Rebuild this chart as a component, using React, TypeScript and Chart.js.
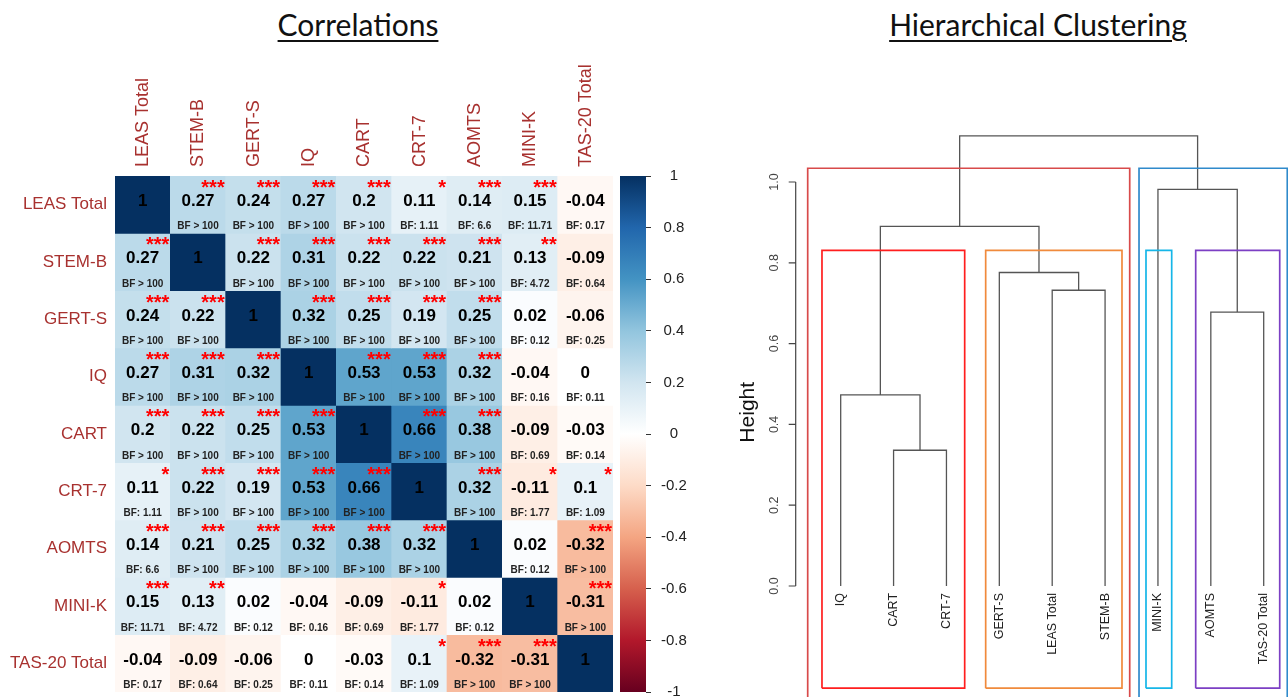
import React, { useEffect, useRef } from 'react';
import { Chart, registerables } from 'chart.js';

Chart.register(...registerables);

// ---------------- DATA ----------------
const VARS = ['LEAS Total', 'STEM-B', 'GERT-S', 'IQ', 'CART', 'CRT-7', 'AOMTS', 'MINI-K', 'TAS-20 Total'];

const CORR: number[][] = [
  [1, 0.27, 0.24, 0.27, 0.2, 0.11, 0.14, 0.15, -0.04],
  [0.27, 1, 0.22, 0.31, 0.22, 0.22, 0.21, 0.13, -0.09],
  [0.24, 0.22, 1, 0.32, 0.25, 0.19, 0.25, 0.02, -0.06],
  [0.27, 0.31, 0.32, 1, 0.53, 0.53, 0.32, -0.04, 0],
  [0.2, 0.22, 0.25, 0.53, 1, 0.66, 0.38, -0.09, -0.03],
  [0.11, 0.22, 0.19, 0.53, 0.66, 1, 0.32, -0.11, 0.1],
  [0.14, 0.21, 0.25, 0.32, 0.38, 0.32, 1, 0.02, -0.32],
  [0.15, 0.13, 0.02, -0.04, -0.09, -0.11, 0.02, 1, -0.31],
  [-0.04, -0.09, -0.06, 0, -0.03, 0.1, -0.32, -0.31, 1],
];

const BF: string[][] = [
  ['', '> 100', '> 100', '> 100', '> 100', '1.11', '6.6', '11.71', '0.17'],
  ['> 100', '', '> 100', '> 100', '> 100', '> 100', '> 100', '4.72', '0.64'],
  ['> 100', '> 100', '', '> 100', '> 100', '> 100', '> 100', '0.12', '0.25'],
  ['> 100', '> 100', '> 100', '', '> 100', '> 100', '> 100', '0.16', '0.11'],
  ['> 100', '> 100', '> 100', '> 100', '', '> 100', '> 100', '0.69', '0.14'],
  ['1.11', '> 100', '> 100', '> 100', '> 100', '', '> 100', '1.77', '1.09'],
  ['6.6', '> 100', '> 100', '> 100', '> 100', '> 100', '', '0.12', '> 100'],
  ['11.71', '4.72', '0.12', '0.16', '0.69', '1.77', '0.12', '', '> 100'],
  ['0.17', '0.64', '0.25', '0.11', '0.14', '1.09', '> 100', '> 100', ''],
];

const STARS: number[][] = [
  [0, 3, 3, 3, 3, 1, 3, 3, 0],
  [3, 0, 3, 3, 3, 3, 3, 2, 0],
  [3, 3, 0, 3, 3, 3, 3, 0, 0],
  [3, 3, 3, 0, 3, 3, 3, 0, 0],
  [3, 3, 3, 3, 0, 3, 3, 0, 0],
  [1, 3, 3, 3, 3, 0, 3, 1, 1],
  [3, 3, 3, 3, 3, 3, 0, 0, 3],
  [3, 2, 0, 0, 0, 1, 0, 0, 3],
  [0, 0, 0, 0, 0, 1, 3, 3, 0],
];

const CB_RANGE = [-1, 1];
const CB_STEP = 0.2;

// dendrogram (hclust-style merges: negative = leaf position, positive = earlier merge)
const LEAVES = ['IQ', 'CART', 'CRT-7', 'GERT-S', 'LEAS Total', 'STEM-B', 'MINI-K', 'AOMTS', 'TAS-20 Total'];
const MERGE_LEFT = [-2, -5, -8, -1, -4, 4, -7, 6];
const MERGE_RIGHT = [-3, -6, -9, 1, 2, 5, 3, 7];
const MERGE_HEIGHT = [0.336, 0.732, 0.678, 0.473, 0.776, 0.89, 0.982, 1.114];
const DENDRO_TICKS = [0, 0.2, 0.4, 0.6, 0.8, 1.0];

// cluster boxes (leaf units / height units)
const BOX_LEFT = [0.376, 6.642, 0.646, 3.742, 6.774, 7.714];
const BOX_RIGHT = [6.466, 9.446, 3.345, 6.32, 7.26, 9.303];
const BOX_TOP = [1.034, 1.034, 0.831, 0.831, 0.831, 0.831];
const BOX_BOTTOM = [-0.32, -0.32, -0.253, -0.253, -0.253, -0.253];

// ---------------- STYLE ----------------
const FONT = '"Liberation Sans", Arial, Helvetica, sans-serif';
const LABEL_RED = '#A8312F';
const RDBU = ['#67001F', '#B2182B', '#D6604D', '#F4A582', '#FDDBC7', '#FFFFFF', '#D1E5F0', '#92C5DE', '#4393C3', '#2166AC', '#053061'];
const BOX_COLORS = ['#D84A4A', '#2F8ACB', '#FF1E1E', '#F08A3C', '#16B6E8', '#7C3FC4'];

function hexToRgb(h: string) {
  const n = parseInt(h.slice(1), 16);
  return [(n >> 16) & 255, (n >> 8) & 255, n & 255];
}
function corrColor(v: number) {
  const t = ((v + 1) / 2) * (RDBU.length - 1);
  const i = Math.min(Math.floor(t), RDBU.length - 2);
  const f = t - i;
  const a = hexToRgb(RDBU[i]);
  const b = hexToRgb(RDBU[i + 1]);
  const c = a.map((av, k) => Math.round(av + (b[k] - av) * f));
  return `rgb(${c[0]},${c[1]},${c[2]})`;
}

export default function App() {
  const heatRef = useRef<HTMLCanvasElement>(null);
  const cbRef = useRef<HTMLCanvasElement>(null);
  const dendRef = useRef<HTMLCanvasElement>(null);

  useEffect(() => {
    Chart.defaults.font.family = FONT;

    // ---------- Heatmap ----------
    const cellText = {
      id: 'cellText',
      afterDatasetsDraw(chart: any) {
        const { ctx, scales } = chart;
        const x = scales.x;
        const y = scales.y;
        const cw = x.getPixelForValue(1) - x.getPixelForValue(0);
        ctx.save();
        for (let r = 0; r < VARS.length; r++) {
          for (let c = 0; c < VARS.length; c++) {
            const xc = x.getPixelForValue(c);
            const top = y.getPixelForValue(r);
            const bot = y.getPixelForValue(r + 1);
            const h = bot - top;
            const right = xc + cw / 2;
            ctx.fillStyle = '#000';
            ctx.textAlign = 'center';
            ctx.textBaseline = 'alphabetic';
            ctx.font = `bold 17px ${FONT}`;
            ctx.fillText(String(CORR[r][c]), xc, top + h * 0.525);
            const bf = BF[r][c];
            if (bf) {
              ctx.font = `bold 10px ${FONT}`;
              ctx.fillStyle = '#222';
              ctx.fillText(bf.startsWith('>') ? `BF ${bf}` : `BF: ${bf}`, xc, top + h * 0.93);
            }
            const s = STARS[r][c];
            if (s > 0) {
              ctx.font = `bold 20px ${FONT}`;
              ctx.fillStyle = '#FF0000';
              ctx.textAlign = 'right';
              ctx.fillText('*'.repeat(s), right - 1, top + 18);
            }
          }
        }
        ctx.restore();
      },
    };

    const heat = new Chart(heatRef.current as HTMLCanvasElement, {
      type: 'bar',
      data: {
        labels: VARS,
        datasets: VARS.map((rowName, r) => ({
          label: rowName,
          data: VARS.map(() => [r, r + 1]),
          backgroundColor: VARS.map((_, c) => corrColor(CORR[r][c])),
          borderWidth: 0,
          categoryPercentage: 1,
          barPercentage: 1,
        })),
      } as any,
      options: {
        animation: false,
        responsive: false,
        layout: { padding: { left: 0, right: 27, top: 0, bottom: 5 } },
        plugins: { legend: { display: false }, tooltip: { enabled: false }, title: { display: false } },
        scales: {
          x: {
            type: 'category',
            position: 'top',
            stacked: true,
            grid: { display: false, drawTicks: false },
            border: { display: false },
            ticks: {
              minRotation: 90,
              maxRotation: 90,
              autoSkip: false,
              padding: 9,
              labelOffset: 22,
              color: LABEL_RED,
              font: { size: 18, family: FONT },
            },
            afterFit: (s: any) => {
              s.height = 176;
              s.paddingLeft = 0;
              s.paddingRight = 0;
            },
          },
          y: {
            type: 'linear',
            min: 0,
            max: VARS.length,
            reverse: true,
            grid: { display: false, drawTicks: false },
            border: { display: false },
            afterBuildTicks: (s: any) => {
              s.ticks = VARS.map((_, i) => ({ value: i + 0.5 }));
            },
            ticks: {
              autoSkip: false,
              padding: 8,
              color: LABEL_RED,
              font: { size: 17, family: FONT },
              callback: (_v: any, i: number) => VARS[i],
            },
            afterFit: (s: any) => {
              s.width = 115;
              s.paddingTop = 0;
              s.paddingBottom = 0;
            },
          },
        },
      } as any,
      plugins: [cellText],
    });

    // ---------- Colour bar ----------
    const cb = new Chart(cbRef.current as HTMLCanvasElement, {
      type: 'bar',
      data: {
        labels: ['corr'],
        datasets: [
          {
            data: [CB_RANGE],
            backgroundColor: (ctx: any) => {
              const ch = ctx.chart;
              const ys = ch.scales.y;
              if (!ys || !ch.chartArea) return RDBU[5];
              const g = ch.ctx.createLinearGradient(0, ys.getPixelForValue(CB_RANGE[0]), 0, ys.getPixelForValue(CB_RANGE[1]));
              RDBU.forEach((col, i) => g.addColorStop(i / (RDBU.length - 1), col));
              return g;
            },
            borderWidth: 0,
            categoryPercentage: 1,
            barPercentage: 1,
          },
        ],
      } as any,
      options: {
        animation: false,
        responsive: false,
        layout: { padding: { left: 0, right: 0, top: 12, bottom: 5 } },
        plugins: { legend: { display: false }, tooltip: { enabled: false } },
        scales: {
          x: { display: false },
          y: {
            position: 'right',
            min: CB_RANGE[0],
            max: CB_RANGE[1],
            border: { display: false },
            grid: { drawOnChartArea: false, drawTicks: true, tickLength: 5, color: '#333', tickColor: '#333' },
            ticks: {
              stepSize: CB_STEP,
              padding: 10,
              crossAlign: 'center',
              color: '#222',
              font: { size: 15, family: FONT },
              callback: (v: any) => String(Math.round(Number(v) * 10) / 10),
            },
            afterFit: (s: any) => {
              s.width = 54;
              s.paddingTop = 0;
              s.paddingBottom = 0;
            },
          },
        },
      } as any,
    });

    // ---------- Dendrogram ----------
    const nodeX: number[] = [];
    const nodeH: number[] = [];
    const ref = (k: number) => (k < 0 ? { x: -k, h: 0 } : { x: nodeX[k - 1], h: nodeH[k - 1] });
    const segDatasets: any[] = [];
    MERGE_HEIGHT.forEach((h, i) => {
      const L = ref(MERGE_LEFT[i]);
      const R = ref(MERGE_RIGHT[i]);
      nodeX.push((L.x + R.x) / 2);
      nodeH.push(h);
      segDatasets.push({
        data: [
          { x: L.x, y: L.h },
          { x: L.x, y: h },
          { x: R.x, y: h },
          { x: R.x, y: R.h },
        ],
        showLine: true,
        pointRadius: 0,
        borderColor: '#555',
        borderWidth: 1.3,
        fill: false,
      });
    });
    const boxDatasets = BOX_LEFT.map((l, i) => ({
      data: [
        { x: l, y: BOX_BOTTOM[i] },
        { x: l, y: BOX_TOP[i] },
        { x: BOX_RIGHT[i], y: BOX_TOP[i] },
        { x: BOX_RIGHT[i], y: BOX_BOTTOM[i] },
        { x: l, y: BOX_BOTTOM[i] },
      ],
      showLine: true,
      pointRadius: 0,
      borderColor: BOX_COLORS[i],
      borderWidth: 1.7,
      fill: false,
    }));

    const dendDecor = {
      id: 'dendDecor',
      afterDraw(chart: any) {
        const { ctx, chartArea, scales } = chart;
        const x = scales.x;
        const y = scales.y;
        const ax = chartArea.left;
        ctx.save();
        // axis
        ctx.strokeStyle = '#444';
        ctx.lineWidth = 1.2;
        ctx.beginPath();
        ctx.moveTo(ax, y.getPixelForValue(DENDRO_TICKS[0]));
        ctx.lineTo(ax, y.getPixelForValue(DENDRO_TICKS[DENDRO_TICKS.length - 1]));
        DENDRO_TICKS.forEach((t) => {
          const py = y.getPixelForValue(t);
          ctx.moveTo(ax, py);
          ctx.lineTo(ax - 7, py);
        });
        ctx.stroke();
        ctx.fillStyle = '#444';
        ctx.font = `12.5px ${FONT}`;
        ctx.textAlign = 'center';
        ctx.textBaseline = 'middle';
        DENDRO_TICKS.forEach((t) => {
          const py = y.getPixelForValue(t);
          ctx.save();
          ctx.translate(ax - 21.4, py);
          ctx.rotate(-Math.PI / 2);
          ctx.fillText(t.toFixed(1), 0, 0);
          ctx.restore();
        });
        // axis title
        ctx.save();
        ctx.fillStyle = '#111';
        ctx.font = `21px ${FONT}`;
        ctx.translate(ax - 47.7, y.getPixelForValue(0.43));
        ctx.rotate(-Math.PI / 2);
        ctx.fillText('Height', 0, 0);
        ctx.restore();
        // leaf labels
        ctx.fillStyle = '#222';
        ctx.font = `12.5px ${FONT}`;
        ctx.textAlign = 'right';
        LEAVES.forEach((lab, i) => {
          ctx.save();
          ctx.translate(x.getPixelForValue(i + 1), y.getPixelForValue(0) + 7);
          ctx.rotate(-Math.PI / 2);
          ctx.fillText(lab, 0, 0);
          ctx.restore();
        });
        ctx.restore();
      },
    };

    const dend = new Chart(dendRef.current as HTMLCanvasElement, {
      type: 'scatter',
      data: { datasets: [...boxDatasets, ...segDatasets] },
      options: {
        animation: false,
        responsive: false,
        layout: { padding: { left: 65.7, right: 0, top: 0, bottom: 0 } },
        plugins: { legend: { display: false }, tooltip: { enabled: false } },
        scales: {
          x: { type: 'linear', display: false, min: 0.149, max: 9.4596 },
          y: { type: 'linear', display: false, min: -0.2748, max: 1.203 },
        },
      } as any,
      plugins: [dendDecor],
    });

    return () => {
      heat.destroy();
      cb.destroy();
      dend.destroy();
    };
  }, []);

  const titleStyle: React.CSSProperties = {
    position: 'absolute',
    top: 8,
    width: 500,
    textAlign: 'center',
    fontFamily: 'Lato, "Open Sans", sans-serif',
    fontSize: 30,
    lineHeight: '32px',
    color: '#111',
    textDecoration: 'underline',
    textDecorationThickness: '2px',
    textUnderlineOffset: '4px',
    margin: 0,
  };

  return (
    <div
      style={{
        position: 'absolute',
        left: 0,
        top: 0,
        width: 1288,
        height: 697,
        overflow: 'hidden',
        background: '#fff',
      }}
    >
      <div style={{ ...titleStyle, left: 358 - 250 }}>Correlations</div>
      <div style={{ ...titleStyle, left: 1038 - 250 }}>Hierarchical Clustering</div>
      <canvas
        ref={heatRef}
        width={640}
        height={697}
        style={{ position: 'absolute', left: 0, top: 0, width: 640, height: 697 }}
      />
      <canvas
        ref={cbRef}
        width={80}
        height={533}
        style={{ position: 'absolute', left: 620, top: 164, width: 80, height: 533 }}
      />
      <canvas
        ref={dendRef}
        width={558}
        height={597}
        style={{ position: 'absolute', left: 730, top: 100, width: 558, height: 597 }}
      />
    </div>
  );
}
